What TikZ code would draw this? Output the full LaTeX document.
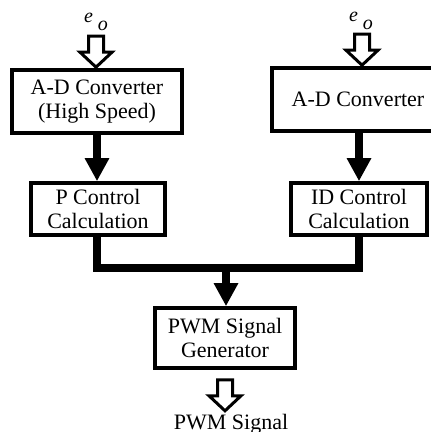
\documentclass[tikz,border=0pt]{standalone}
\usepackage{fontspec}
\setmainfont{Liberation Serif}
\usetikzlibrary{arrows.meta, calc, positioning}

\tikzset{
  block/.style={draw, line width=1.8pt, align=center, inner sep=0pt,
    font=\fontsize{11}{12}\selectfont},
  pics/hollowdown/.style={code={
    \draw[line width=1.5pt, line join=miter, fill=white]
      (-7.5,-31) -- (7.5,-31) -- (7.5,-15) -- (16,-15) -- (0,0)
      -- (-16,-15) -- (-7.5,-15) -- cycle;}},
  fatarrow/.style={line width=4pt, -{Triangle[width=11.5pt,length=11.5pt]}},
  bus/.style={line width=4.2pt},
  lbl/.style={font=\fontsize{11}{12}\selectfont, inner sep=0pt},
  eo/.style={font=\fontsize{10}{10}\selectfont, inner sep=0pt}
}
\newcommand{\eosym}{\textit{e}\kern2.5pt\raisebox{-4pt}{\textit{o}}}

\begin{document}
\begin{tikzpicture}[x=0.5pt, y=-0.5pt]
  \useasboundingbox (0,0) rectangle (431,432);

  % blocks
  \node[block, minimum width=85pt, minimum height=31.5pt] (adl) at (97,101.5) {A-D Converter\\(High Speed)};
  \node[block, minimum width=86pt, minimum height=31.5pt] (adr) at (358,99.5) {A-D Converter};
  \node[block, minimum width=67pt, minimum height=26pt] (pc) at (98,209) {P Control\\Calculation};
  \node[block, minimum width=68pt, minimum height=26pt] (idc) at (359,209) {ID Control\\Calculation};
  \node[block, minimum width=70pt, minimum height=30pt] (pwm) at (225,338) {PWM Signal\\Generator};

  % inputs
  \coordinate (inl) at ($(adl.north)+(-1,-1)$);
  \coordinate (inr) at ($(adr.north)+(4,-1)$);
  \pic at (inl) {hollowdown};
  \pic at (inr) {hollowdown};
  \node[eo, anchor=south] (eol) at ($(inl)+(0,-36)$) {\eosym};
  \node[eo, anchor=south] (eor) at ($(inr)+(-1,-35)$) {\eosym};

  % signal flow
  \draw[fatarrow] (adl.south) -- (pc.north -| adl.south);
  \draw[fatarrow] (idc.north |- adr.south) -- (idc.north);
  \coordinate (join) at (226,268);
  \draw[bus] ($(pc.south)+(-1,0)$) |- (join) -| (idc.south);
  \draw[fatarrow] (join) -- (pwm.north -| join);

  % output
  \coordinate (outa) at ($(pwm.south)+(0,41)$);
  \pic at (outa) {hollowdown};
  \node[lbl, anchor=north] (pwms) at ($(outa)+(6,3)$) {PWM Signal};
\end{tikzpicture}
\end{document}
